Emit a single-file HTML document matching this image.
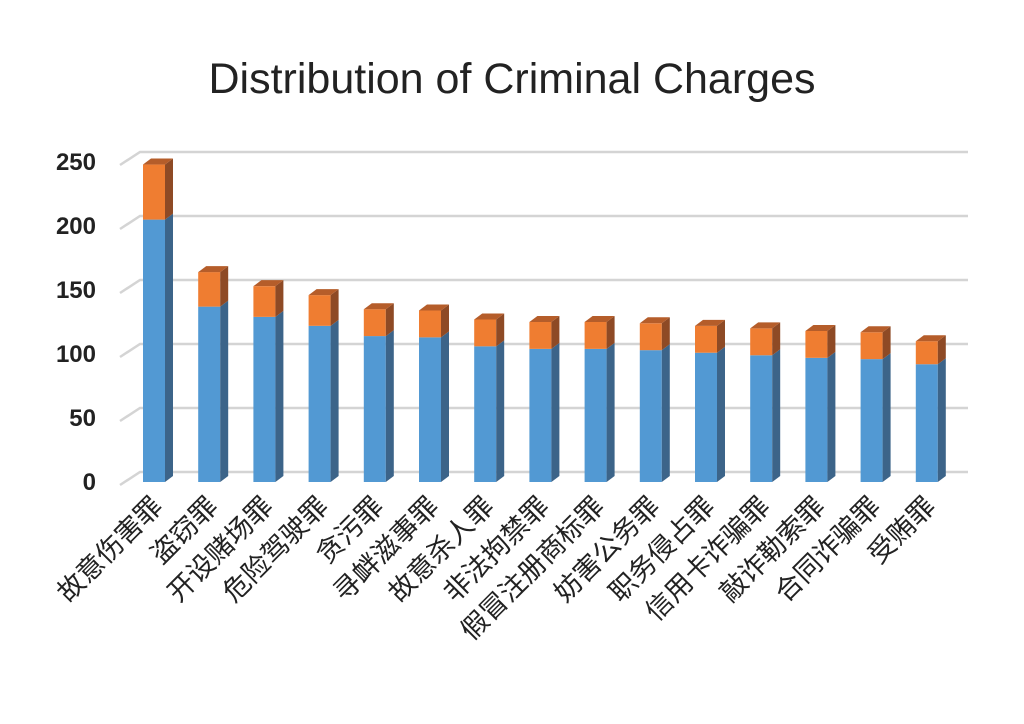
<!DOCTYPE html>
<html><head><meta charset="utf-8"><style>
html,body{margin:0;padding:0;background:#fff;}
svg{display:block;font-family:"Liberation Sans","Noto Sans CJK SC",sans-serif;}
</style></head><body>
<svg id="chart" width="1024" height="724" viewBox="0 0 1024 724">
<text x="512" y="93" text-anchor="middle" font-size="43" fill="#222">Distribution of Criminal Charges</text>
<g id="grid"></g>
<g id="yticks"></g>
<g id="bars"></g>
<g id="xlabels"></g>
</svg>
<script>
const categories = ["故意伤害罪","盗窃罪","开设赌场罪","危险驾驶罪","贪污罪","寻衅滋事罪","故意杀人罪","非法拘禁罪","假冒注册商标罪","妨害公务罪","职务侵占罪","信用卡诈骗罪","敲诈勒索罪","合同诈骗罪","受贿罪"];
const seriesBlue = [205,137,129,122,114,113,106,104,104,103,101,99,97,96,92];
const seriesOrange = [43,27,24,24,21,21,21,21,21,21,21,21,21,21,18];
const yTicks = [0,50,100,150,200,250];

const NS="http://www.w3.org/2000/svg";
function mk(tag,attrs,parent){const e=document.createElementNS(NS,tag);for(const k in attrs)e.setAttribute(k,attrs[k]);parent.appendChild(e);return e;}
const y0=482, pxPerUnit=1.28;
function yScale(v){return y0-v*pxPerUnit;}
const x0=143, step=55.2, bw=22, dx=8, dy=6;
function xScale(i){return x0+i*step;}

const grid=document.getElementById('grid');
const yt=document.getElementById('yticks');
yTicks.forEach(t=>{
  const yf=yScale(t)+3, yb=yf-13;
  const l=mk('polyline',{points:`120,${yf} 140,${yb} 968,${yb}`,fill:'none',stroke:'#d4d4d4','stroke-width':2.5},grid);
  
  
  const tx=mk('text',{x:96,y:yf+5,'text-anchor':'end','font-size':24,'font-weight':'bold',fill:'#222'},yt);
  tx.textContent=t;
  
  
});

const bars=document.getElementById('bars');
function box(x,yTop,yBot,front,side,top,name){
  const g=mk('g',{},bars);
  
  
  mk('rect',{x:x,y:yTop,width:bw,height:yBot-yTop,fill:front},g);
  mk('polygon',{points:`${x+bw},${yTop} ${x+bw+dx},${yTop-dy} ${x+bw+dx},${yBot-dy} ${x+bw},${yBot}`,fill:side},g);
  if(top) mk('polygon',{points:`${x},${yTop} ${x+dx},${yTop-dy} ${x+bw+dx},${yTop-dy} ${x+bw},${yTop}`,fill:top},g);
}
const xl=document.getElementById('xlabels');
categories.forEach((c,i)=>{
  const x=xScale(i);
  const yb=yScale(seriesBlue[i]);
  const yo=yScale(seriesBlue[i]+seriesOrange[i]);
  box(x,yb,y0,'#5299d3','#3c6489',null,'bar-blue-'+i);
  box(x,yo,yb,'#ef7d31','#8e4a25','#b55d2a','bar-orange-'+i);
  const cx=x+bw/2+10, cy=y0+26;
  const t=mk('text',{x:cx,y:cy,'text-anchor':'end','font-size':27,fill:'#222',transform:`rotate(-45 ${cx} ${cy})`},xl);
  t.textContent=c;
  
  
});
</script>
</body></html>
